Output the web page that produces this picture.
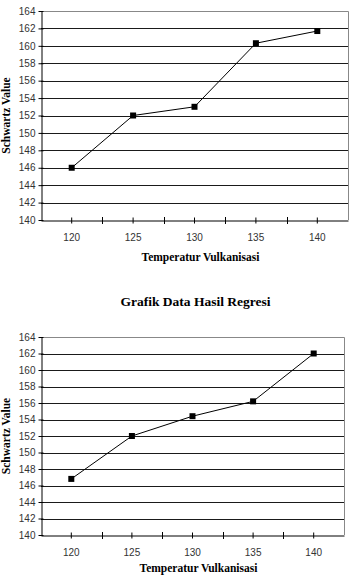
<!DOCTYPE html>
<html>
<head>
<meta charset="utf-8">
<script src="https://cdn.jsdelivr.net/npm/d3@7"></script>
<style>
  body { margin: 0; background: #fff; }
</style>
</head>
<body>
<div id="wrapper"></div>
<script>
// Data
const temperatures = ['120', '125', '130', '135', '140'];
const schwartzData = [146, 152, 153, 160.3, 161.7];
const regresiData = [146.8, 152, 154.4, 156.2, 162];
const yTicks = [140, 142, 144, 146, 148, 150, 152, 154, 156, 158, 160, 162, 164];

const svg = d3
  .select('#wrapper')
  .append('svg')
  .attr('width', 352)
  .attr('height', 575);

function drawChart(values, box, title, xTitleOffset) {
  const xScale = d3
    .scaleBand()
    .domain(temperatures)
    .range([box.left, box.right]);

  const yScale = d3
    .scaleLinear()
    .domain([140, 164])
    .range([box.bottom, box.top]);

  const g = svg.append('g');

  // Title
  if (title) {
    g.append('text')
      .attr('x', (box.left + box.right) / 2 + 3)
      .attr('y', box.top - 31)
      .attr('text-anchor', 'middle')
      .style('font-family', '"Liberation Serif", "Times New Roman", serif')
      .style('font-weight', 'bold')
      .style('font-size', '13.5px')
      .text(title);
  }

  // Gridlines
  g.selectAll('line.grid')
    .data(yTicks.filter((d) => d > 140 && d < 164))
    .enter()
    .append('line')
    .attr('class', 'grid')
    .attr('x1', box.left)
    .attr('x2', box.right)
    .attr('y1', (d) => Math.round(yScale(d)) + 0.5)
    .attr('y2', (d) => Math.round(yScale(d)) + 0.5)
    .attr('stroke', '#1a1a1a')
    .attr('stroke-width', 1);

  // Top and right border
  g.append('path')
    .attr(
      'd',
      `M${box.left},${box.top + 0.5}H${box.right + 0.5}V${box.bottom}`
    )
    .attr('fill', 'none')
    .attr('stroke', '#888')
    .attr('stroke-width', 1);

  // Y axis
  const yAxis = d3
    .axisLeft(yScale)
    .tickValues(yTicks)
    .tickSizeInner(3)
    .tickSizeOuter(0)
    .tickPadding(3);
  const yAxisG = g
    .append('g')
    .attr('transform', `translate(${box.left + 0.5}, 0)`)
    .call(yAxis);
  yAxisG.selectAll('.tick line').attr('x2', 2).attr('x1', -3).attr('stroke', '#000');
  yAxisG.select('.domain').attr('stroke', '#000');
  yAxisG
    .selectAll('text')
    .style('font-family', '"Liberation Sans", Arial, sans-serif')
    .style('font-size', '10px')
    .attr('fill', '#333');

  // X axis
  const xAxis = d3
    .axisBottom(xScale)
    .tickSizeInner(3)
    .tickSizeOuter(0)
    .tickPadding(10);
  const xAxisG = g
    .append('g')
    .attr('transform', `translate(0, ${box.bottom + 0.5})`)
    .call(xAxis);
  xAxisG.selectAll('.tick line').attr('y1', -3).attr('y2', 3).attr('stroke', '#000');
  xAxisG.select('.domain').attr('stroke', '#000');
  xAxisG
    .selectAll('text')
    .style('font-family', '"Liberation Sans", Arial, sans-serif')
    .style('font-size', '10px')
    .attr('fill', '#333');

  // Boundary ticks between categories
  const bounds = temperatures.slice(1).map((d) => xScale(d));
  g.selectAll('line.bound')
    .data(bounds)
    .enter()
    .append('line')
    .attr('class', 'bound')
    .attr('x1', (d) => Math.round(d) + 0.5)
    .attr('x2', (d) => Math.round(d) + 0.5)
    .attr('y1', box.bottom - 3)
    .attr('y2', box.bottom + 4)
    .attr('stroke', '#000');

  // Axis titles
  g.append('text')
    .attr('x', (box.left + box.right) / 2 + 6)
    .attr('y', box.bottom + xTitleOffset)
    .attr('text-anchor', 'middle')
    .style('font-family', '"Liberation Serif", "Times New Roman", serif')
    .style('font-weight', 'bold')
    .style('font-size', '11.5px')
    .text('Temperatur Vulkanisasi');

  g.append('text')
    .attr('transform', `translate(10, ${(box.top + box.bottom) / 2}) rotate(-90)`)
    .attr('text-anchor', 'middle')
    .style('font-family', '"Liberation Serif", "Times New Roman", serif')
    .style('font-weight', 'bold')
    .style('font-size', '11.5px')
    .text('Schwartz Value');

  // Line
  const xCenter = (d) => xScale(d) + xScale.bandwidth() / 2;
  const line = d3
    .line()
    .x((d, i) => xCenter(temperatures[i]))
    .y((d) => yScale(d));

  g.append('path')
    .datum(values)
    .attr('d', line)
    .attr('fill', 'none')
    .attr('stroke', '#000')
    .attr('stroke-width', 1);

  // Markers
  g.selectAll('rect.marker')
    .data(values)
    .enter()
    .append('rect')
    .attr('class', 'marker')
    .attr('x', (d, i) => xCenter(temperatures[i]) - 3)
    .attr('y', (d) => yScale(d) - 3)
    .attr('width', 6)
    .attr('height', 6)
    .attr('fill', '#000');
}

drawChart(schwartzData, { left: 41, right: 348, top: 11, bottom: 220 }, null, 41);
drawChart(
  regresiData,
  { left: 41, right: 344, top: 337, bottom: 535 },
  'Grafik Data Hasil Regresi',
  37
);
</script>
</body>
</html>
